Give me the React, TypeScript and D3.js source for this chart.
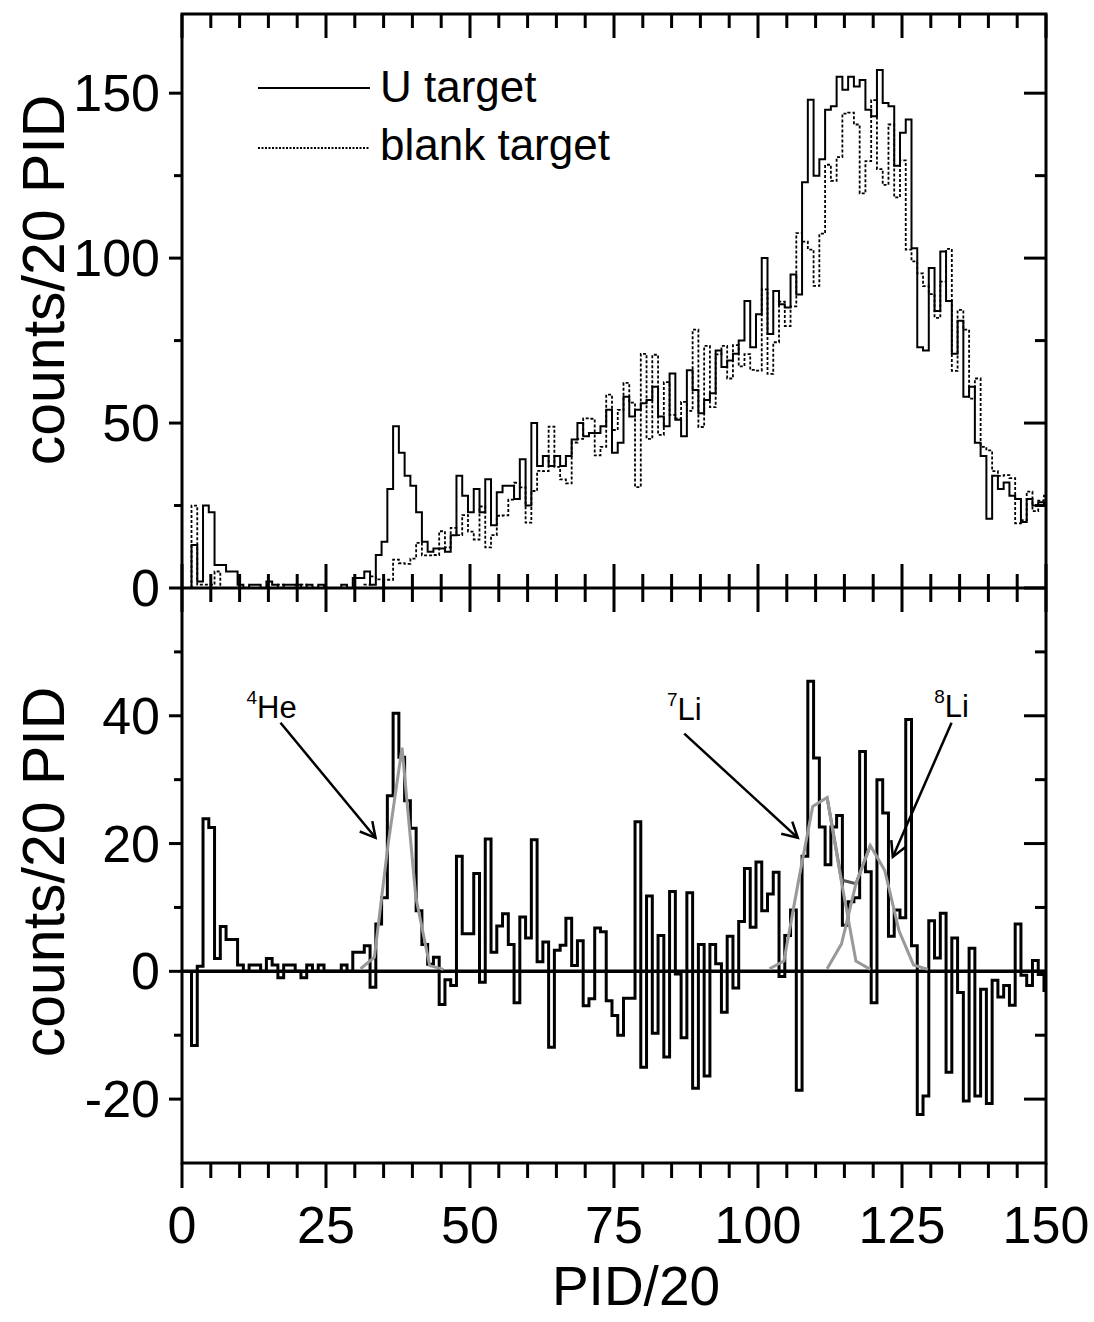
import React from 'react';
import * as d3 from 'd3';

// left edge (in PID/20) of the first 20-PID bin; every bin is 1 unit wide
const firstBinEdge = 1.65;

// counts per bin, bins 2..150
const uTarget = [
  13, 2, 25, 23, 7, 7, 5, 5, 1, 0,
  1, 1, 0, 2, 1, 0, 1, 1, 1, 0,
  1, 0, 1, 0, 0, 0, 1, 0, 3, 3,
  5, 1, 10, 14, 30, 49, 41, 34, 31, 23,
  14, 11, 12, 12, 11, 16, 34, 28, 23, 30,
  23, 33, 19, 29, 31, 31, 27, 39, 25, 50,
  37, 40, 37, 40, 37, 40, 45, 50, 46, 47,
  47, 49, 54, 41, 44, 58, 52, 54, 56, 57,
  61, 52, 49, 65, 51, 46, 66, 60, 53, 57,
  59, 72, 67, 69, 71, 75, 87, 73, 83, 100,
  77, 90, 86, 85, 95, 89, 123, 148, 125, 130,
  145, 146, 155, 151, 155, 152, 154, 145, 143, 157,
  147, 146, 128, 138, 142, 103, 73, 72, 97, 84,
  102, 87, 71, 81, 58, 61, 44, 40, 21, 34,
  30, 32, 28, 27, 20, 27, 25, 26, 25,
];

const blankTarget = [
  25, 1, 1, 1, 5, 0, 0, 0, 0, 0,
  0, 0, 0, 0, 0, 1, 0, 0, 1, 1,
  0, 0, 0, 0, 0, 0, 0, 0, 0, 0,
  1, 3.5, 2.6, 2.5, 2.5, 8.6, 7.5, 7.3, 8.9, 13.7,
  9.9, 9.9, 10, 17.2, 12.3, 18.2, 16, 22.1, 17.1, 14.7,
  24.7, 12.3, 16, 21.9, 22, 26.8, 31.9, 30.5, 19.8, 29.4,
  35.5, 35.4, 48.9, 36.7, 32.9, 31.7, 44.1, 45.2, 51.4, 51.3,
  40.2, 42.8, 58.6, 47.9, 54, 62.2, 56.2, 30.6, 71, 45.2,
  70.7, 46.4, 62.4, 52.5, 51.4, 56.4, 53.7, 78.3, 48.8, 73.4,
  54.8, 70.8, 73.4, 63.5, 73.6, 67.2, 70.9, 66.1, 65.9, 90.5,
  64.9, 74.5, 86.8, 79.4, 85.4, 107.6, 105, 102.6, 91.6, 107.4,
  128.3, 123.4, 130.6, 143.8, 144.1, 140.5, 119.6, 129.4, 147.9, 127,
  122.2, 140.5, 118.4, 129.6, 102.6, 99, 95.4, 91.5, 89.1, 81.9,
  92.9, 102.8, 65.8, 84.3, 78.3, 57.4, 63.5, 42.8, 41.7, 35.4,
  34, 34.2, 33.3, 19.6, 20.6, 29.2, 23.3, 26.5, 28,
];

const difference = [
  -11.6, 0.8, 23.9, 22.5, 2, 7, 5, 5, 1, 0,
  1, 1, 0, 2, 1, -1, 1, 1, 0, -1,
  1, 0, 1, 0, 0, 0, 1, 0, 3, 3,
  4, -2.5, 7.4, 11.5, 27.5, 40.4, 33.5, 26.7, 22.4, 9.5,
  4.2, 1.1, 2.2, -5.2, -1.3, -2.2, 18, 5.9, 5.9, 15.3,
  -1.7, 20.7, 3, 7.1, 9, 4.2, -4.9, 8.5, 5.2, 20.6,
  1.5, 4.6, -11.9, 3.3, 4.1, 8.3, 0.9, 4.8, -5.4, -4.3,
  6.8, 6.2, -4.6, -6.9, -10, -4.2, -4.2, 23.4, -15, 11.8,
  -9.7, 5.6, -13.4, 12.5, -0.4, -10.4, 12.3, -18.3, 4.2, -16.4,
  4.2, 1.2, -6.4, 5.5, -2.6, 7.8, 16.1, 6.9, 17.1, 9.5,
  12.1, 15.5, -0.8, 5.6, 9.6, -18.6, 18, 45.4, 33.4, 22.6,
  16.7, 22.6, 24.4, 7.2, 10.9, 11.5, 34.4, 15.6, -4.9, 30,
  24.8, 5.5, 9.6, 8.4, 39.4, 4, -22.4, -19.5, 7.9, 2.1,
  9.1, -15.8, 5.2, -3.3, -20.3, 3.6, -19.5, -2.8, -20.7, -1.4,
  -4, -2.2, -5.3, 7.4, -0.6, -2.2, 1.7, -0.5, -3,
];

// fitted peaks (grey lines)
const he4FitX = [31, 33.4, 35.8, 38.2, 40.6, 43, 45.4];
const he4FitY = [0.4, 2.2, 20, 35, 11.6, 0.9, 0.3];
const li7FitX = [102, 104.5, 107, 109.5, 112, 114.5, 117, 119.5];
const li7FitY = [0.4, 1.6, 14, 25.8, 27.2, 14, 1.6, 0.3];
const li8FitX = [112, 114.5, 117, 119.5, 122, 124.5, 127, 129.5];
const li8FitY = [0.4, 4.3, 13.7, 19.7, 15.8, 6.3, 1.0, 0.3];
const liSumX = [112, 114.5, 117, 119.5];
const liSumY = [27.2, 14.3, 13.7, 19.7];

const xTickLabels = [0, 25, 50, 75, 100, 125, 150];
const topTickLabels = [0, 50, 100, 150];
const bottomTickLabels = [-20, 0, 20, 40];

const W = 1094;
const H = 1322;
const left = 182;
const right = 1046;
const top = 14;
const mid = 588;
const bottom = 1163;
const font = 'Liberation Sans, Arial, Helvetica, sans-serif';

const x = d3.scaleLinear().domain([0, 150]).range([left, right]);
const yTop = d3.scaleLinear().domain([0, 174]).range([mid, top]);
const yBot = d3.scaleLinear().domain([-30, 60]).range([bottom, mid]);

function stepPoints(values: number[]): [number, number][] {
  const pts: [number, number][] = [[firstBinEdge, 0]];
  values.forEach((v, i) => {
    pts.push([firstBinEdge + i, v], [firstBinEdge + i + 1, v]);
  });
  return pts;
}

function zip(xs: number[], ys: number[]): [number, number][] {
  return xs.map((v, i) => [v, ys[i]]);
}

const lineTop = d3.line<[number, number]>().x(d => x(d[0])).y(d => yTop(d[1]));
const lineBot = d3.line<[number, number]>().x(d => x(d[0])).y(d => yBot(d[1]));

function Arrow({ from, to }: { from: [number, number]; to: [number, number] }) {
  const x1 = x(from[0]), y1 = yBot(from[1]);
  const x2 = x(to[0]), y2 = yBot(to[1]);
  const a = Math.atan2(y2 - y1, x2 - x1);
  const L = 17, t = 0.5;
  const b1 = [x2 - L * Math.cos(a - t), y2 - L * Math.sin(a - t)];
  const b2 = [x2 - L * Math.cos(a + t), y2 - L * Math.sin(a + t)];
  return (
    <g stroke="#000" strokeWidth={2.5} fill="none">
      <line x1={x1} y1={y1} x2={x2} y2={y2} />
      <polyline points={`${b1[0]},${b1[1]} ${x2},${y2} ${b2[0]},${b2[1]}`} />
    </g>
  );
}

function Label({ at, sup, main }: { at: [number, number]; sup: string; main: string }) {
  const px = x(at[0]);
  const py = yBot(at[1]);
  return (
    <text x={px} y={py} fontFamily={font} fontSize={31} fill="#000">
      <tspan fontSize={19} dy={-14}>{sup}</tspan>
      <tspan dy={14}>{main}</tspan>
    </text>
  );
}

export default function App() {
  const xMinor = d3.range(0, 151, 5).filter(v => v % 25 !== 0);
  const topMinor = [25, 75, 125];
  const botMinor = [-10, 10, 30, 50];

  return (
    <svg width={W} height={H} style={{ position: 'absolute', left: 0, top: 0, background: '#fff' }}>
      <defs>
        <clipPath id="clipTop">
          <rect x={left} y={top} width={right - left} height={mid - top} />
        </clipPath>
        <clipPath id="clipBot">
          <rect x={left} y={mid} width={right - left} height={bottom - mid} />
        </clipPath>
      </defs>

      {/* top panel histograms */}
      <g clipPath="url(#clipTop)" fill="none">
        <path d={lineTop(stepPoints(blankTarget)) || ''} stroke="#000" strokeWidth={1.8} strokeDasharray="3,2" />
        <path d={lineTop(stepPoints(uTarget)) || ''} stroke="#000" strokeWidth={2} />
      </g>

      {/* bottom panel */}
      <g clipPath="url(#clipBot)" fill="none">
        <line x1={left} x2={right} y1={yBot(0)} y2={yBot(0)} stroke="#000" strokeWidth={3.5} />
        <path d={lineBot(stepPoints(difference)) || ''} stroke="#000" strokeWidth={3} />
        <path d={lineBot(zip(liSumX, liSumY)) || ''} stroke="#555" strokeWidth={3} />
        <path d={lineBot(zip(he4FitX, he4FitY)) || ''} stroke="#999" strokeWidth={3} />
        <path d={lineBot(zip(li7FitX, li7FitY)) || ''} stroke="#999" strokeWidth={3} />
        <path d={lineBot(zip(li8FitX, li8FitY)) || ''} stroke="#999" strokeWidth={3} />
      </g>

      {/* frame */}
      <g stroke="#000" strokeWidth={3} fill="none">
        <rect x={left} y={top} width={right - left} height={bottom - top} />
        <line x1={left} x2={right} y1={mid} y2={mid} />
      </g>

      {/* x ticks */}
      <g stroke="#000" strokeWidth={3}>
        {xTickLabels.map(v => (
          <g key={'xM' + v}>
            <line x1={x(v)} x2={x(v)} y1={top} y2={top + 24} />
            <line x1={x(v)} x2={x(v)} y1={mid - 24} y2={mid + 24} />
            <line x1={x(v)} x2={x(v)} y1={bottom} y2={bottom + 25} />
          </g>
        ))}
        {xMinor.map(v => (
          <g key={'xm' + v}>
            <line x1={x(v)} x2={x(v)} y1={top} y2={top + 14} />
            <line x1={x(v)} x2={x(v)} y1={mid - 14} y2={mid + 14} />
            <line x1={x(v)} x2={x(v)} y1={bottom} y2={bottom + 15} />
          </g>
        ))}
        {/* y ticks, top panel */}
        {topTickLabels.map(v => (
          <g key={'tM' + v}>
            <line x1={left - 13} x2={left} y1={yTop(v)} y2={yTop(v)} />
            <line x1={right - 22} x2={right} y1={yTop(v)} y2={yTop(v)} />
          </g>
        ))}
        {topMinor.map(v => (
          <g key={'tm' + v}>
            <line x1={left - 8} x2={left} y1={yTop(v)} y2={yTop(v)} />
            <line x1={right - 11} x2={right} y1={yTop(v)} y2={yTop(v)} />
          </g>
        ))}
        {/* y ticks, bottom panel */}
        {bottomTickLabels.map(v => (
          <g key={'bM' + v}>
            <line x1={left - 13} x2={left} y1={yBot(v)} y2={yBot(v)} />
            <line x1={right - 22} x2={right} y1={yBot(v)} y2={yBot(v)} />
          </g>
        ))}
        {botMinor.map(v => (
          <g key={'bm' + v}>
            <line x1={left - 8} x2={left} y1={yBot(v)} y2={yBot(v)} />
            <line x1={right - 11} x2={right} y1={yBot(v)} y2={yBot(v)} />
          </g>
        ))}
      </g>

      {/* tick labels */}
      <g fontFamily={font} fontSize={52} fill="#000">
        {xTickLabels.map(v => (
          <text key={'xl' + v} x={x(v)} y={1243} textAnchor="middle">{v}</text>
        ))}
        {topTickLabels.map(v => (
          <text key={'tl' + v} x={160} y={yTop(v) + 18} textAnchor="end">{v}</text>
        ))}
        {bottomTickLabels.map(v => (
          <text key={'bl' + v} x={160} y={yBot(v) + 18} textAnchor="end">{v}</text>
        ))}
      </g>

      {/* axis titles */}
      <g fontFamily={font} fill="#000" textAnchor="middle">
        <text x={636} y={1305} fontSize={55}>PID/20</text>
        <text fontSize={59} transform={`translate(64,280) rotate(-90)`}>counts/20 PID</text>
        <text fontSize={59} transform={`translate(64,872) rotate(-90)`}>counts/20 PID</text>
      </g>

      {/* legend */}
      <g>
        <line x1={258} x2={370} y1={88} y2={88} stroke="#000" strokeWidth={1.8} />
        <line x1={258} x2={370} y1={148} y2={148} stroke="#000" strokeWidth={1.8} strokeDasharray="2,1.5" />
        <text x={380} y={102} fontFamily={font} fontSize={44}>U target</text>
        <text x={380} y={160} fontFamily={font} fontSize={44}>blank target</text>
      </g>

      {/* peak annotations */}
      <Label at={[11.2, 39.6]} sup="4" main="He" />
      <Arrow from={[17.1, 38.9]} to={[33.6, 20.9]} />
      <Label at={[84.2, 39.3]} sup="7" main="Li" />
      <Arrow from={[87.2, 37.2]} to={[106.9, 20.9]} />
      <Label at={[130.6, 39.8]} sup="8" main="Li" />
      <Arrow from={[133.6, 38.9]} to={[123.4, 17.9]} />
    </svg>
  );
}
